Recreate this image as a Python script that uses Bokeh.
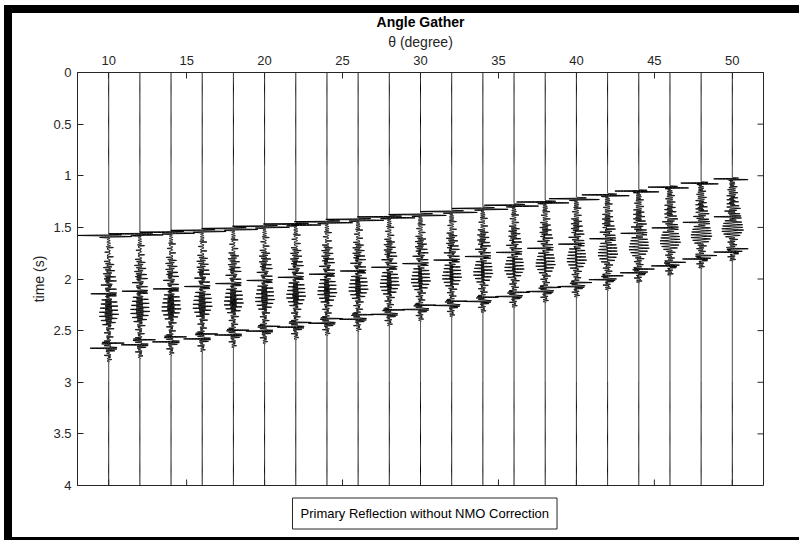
import numpy as np
from bokeh.plotting import figure
from bokeh.models import Range1d, FixedTicker, ColumnDataSource, Title
from bokeh.embed import file_html
from bokeh.resources import INLINE

try:
    from bokeh.models import GlobalInlineStyleSheet, InlineStyleSheet
except Exception:
    GlobalInlineStyleSheet = None
    InlineStyleSheet = None

# ---------------- data ----------------
angles = [10, 12, 14, 16, 18, 20, 22, 24, 26, 28, 30, 32, 34, 36, 38, 40, 42, 44, 46, 48, 50]
primary_time = [1.578, 1.562, 1.546, 1.529, 1.510, 1.489, 1.467, 1.445, 1.422, 1.398, 1.375,
                1.346, 1.316, 1.285, 1.254, 1.222, 1.185, 1.148, 1.110, 1.071, 1.030]
primary_scale = [1.0, 1.0, 1.0, 1.0, 1.0, 1.0, 1.0, 1.0, 0.98, 0.96, 0.94,
                 0.92, 0.9, 0.86, 0.82, 0.78, 0.72, 0.66, 0.6, 0.55, 0.5]
last_time = [2.795, 2.76, 2.73, 2.70, 2.66, 2.62, 2.58, 2.54, 2.50, 2.45, 2.40,
             2.36, 2.32, 2.27, 2.22, 2.17, 2.10, 2.03, 1.96, 1.89, 1.82]
# reflection events of the 10-degree trace (time in s, deflection in degrees)
ref_event_time = [1.572, 1.584,
                  1.600, 1.612, 1.624, 1.636, 1.648, 1.660, 1.672, 1.690, 1.705, 1.720,
                  1.735, 1.750, 1.765, 1.780, 1.795, 1.810, 1.825, 1.840, 1.855, 1.870,
                  1.885, 1.900, 1.915, 1.930, 1.945, 1.960, 1.975,
                  1.995, 2.015, 2.035, 2.055, 2.075, 2.095, 2.115, 2.140, 2.160, 2.180,
                  2.200, 2.220, 2.240, 2.260, 2.280, 2.300, 2.320, 2.340, 2.360, 2.380,
                  2.400, 2.420, 2.440, 2.460, 2.480, 2.500, 2.520, 2.540, 2.560, 2.580,
                  2.600, 2.620, 2.645, 2.670, 2.695, 2.720, 2.740, 2.760, 2.780, 2.795]
ref_event_amp = [-1.85, 1.25,
                 0.08, -0.08, 0.08, -0.10, 0.10, -0.08, 0.10, 0.30, -0.10, 0.10,
                 -0.25, 0.10, -0.10, 0.30, -0.10, 0.10, -0.30, 0.12, 0.35, -0.12,
                 -0.35, 0.12, 0.40, -0.12, -0.35, 0.12, 0.45,
                 -0.30, 0.50, -0.15, -0.50, 0.15, 0.50, -0.15, -1.15, 0.50, -0.15,
                 -0.45, 0.55, -0.50, 0.60, -0.55, 0.60, -0.60, 0.65, -0.60, 0.55,
                 -0.50, 0.45, -0.40, 0.15, 0.35, -0.12, -0.30, 0.12, 0.30, -0.12,
                 -0.30, 1.00, -0.30, -1.20, 0.40, -0.12, -0.30, 0.12, 0.20, -0.10]
n_primary_events = 2
x_ticks = [10, 15, 20, 25, 30, 35, 40, 45, 50]
y_ticks = [0, 0.5, 1, 1.5, 2, 2.5, 3, 3.5, 4]
y_tick_labels = ["0", "0.5", "1", "1.5", "2", "2.5", "3", "3.5", "4"]
x_min, x_max = 8, 52
t_min, t_max = 0, 4
title_text = "Angle Gather"
x_label = "θ (degree)"
y_label = "time (s)"
legend_text = "Primary Reflection without NMO Correction"

FONT = "Liberation Sans"
DARK = "#262626"

# ---------------- wiggle traces ----------------
t = np.concatenate([np.arange(t_min, 0.9, 0.01), np.arange(0.9, 3.0, 0.0005),
                    np.arange(3.0, t_max + 0.005, 0.01)])
freq = 55.0


def ricker(tt):
    a = (np.pi * freq * tt) ** 2
    return (1 - 2 * a) * np.exp(-a)


t0_ref = ref_event_time[0]
span_ref = ref_event_time[-1] - t0_ref
xs, ys = [], []
for ang, t0, t1, ps in zip(angles, primary_time, last_time, primary_scale):
    s = (t1 - t0) / span_ref
    w = np.zeros_like(t)
    for i, (et, ea) in enumerate(zip(ref_event_time, ref_event_amp)):
        amp = ea * ps if i < n_primary_events else ea
        w += amp * ricker(t - (t0 + (et - t0_ref) * s))
    xs.append(list(ang + w))
    ys.append(list(t))

src = ColumnDataSource(dict(xs=xs, ys=ys))

p = figure(width=799, height=540, x_range=Range1d(x_min, x_max), y_range=Range1d(t_max, t_min),
           x_axis_location="above", output_backend="svg", toolbar_location=None,
           min_border_left=77, min_border_right=36, min_border_top=72, min_border_bottom=55,
           title=title_text)
p.title.align = "center"
p.title.text_font = FONT
p.title.text_font_size = "14px"
p.title.text_font_style = "bold"
p.title.text_color = "black"
p.title.standoff = 2
p.title.offset = 0

r = p.multi_line("xs", "ys", source=src, line_color="black", line_width=1)

# inward ticks on the bottom and right edges of the box
p.ray(x=x_ticks, y=[t_max] * len(x_ticks), length=6, length_units="screen",
      angle=np.pi / 2, line_color=DARK, line_width=1)
p.ray(x=[x_max] * len(y_ticks), y=y_ticks, length=6, length_units="screen",
      angle=np.pi, line_color=DARK, line_width=1)

p.xgrid.visible = False
p.ygrid.visible = False
p.outline_line_color = DARK
p.background_fill_color = "white"
p.border_fill_color = "white"
p.border_fill_alpha = 0.0


def style_axis(ax):
    ax.axis_line_color = DARK
    ax.major_tick_line_color = DARK
    ax.major_tick_in = 6
    ax.major_tick_out = 0
    ax.minor_tick_line_color = None
    ax.major_label_text_font = FONT
    ax.major_label_text_font_size = "13px"
    ax.major_label_text_color = DARK
    ax.axis_label_text_font = FONT
    ax.axis_label_text_font_size = "14px"
    ax.axis_label_text_font_style = "normal"
    ax.axis_label_text_color = DARK


xa = p.xaxis[0]
xa.ticker = FixedTicker(ticks=x_ticks)
xa.axis_label = x_label
style_axis(xa)
xa.major_label_standoff = 8
xa.axis_label_standoff = 3

ya = p.yaxis[0]
ya.ticker = FixedTicker(ticks=y_ticks)
ya.major_label_overrides = {k: v for k, v in zip(y_ticks, y_tick_labels)}
ya.axis_label = y_label
style_axis(ya)
ya.major_label_standoff = 6
ya.axis_label_standoff = 3

# legend-like boxed text under the plot
leg = Title(text=legend_text, align="left", text_font=FONT, text_font_size="13px",
            text_font_style="normal", text_color="black", standoff=21, offset=215,
            border_line_color=DARK, border_line_width=1, background_fill_color="white",
            padding=8)
p.add_layout(leg, "below")

# black window frame (left, top, bottom) drawn as the page element's background
p.styles = {
    "background-color": "white",
    "background-image": "linear-gradient(black, black), linear-gradient(black, black), "
                        "linear-gradient(black, black)",
    "background-position": "4px 5px, 4px 5px, 4px 537px",
    "background-size": "8px 535px, 795px 8px, 795px 3px",
    "background-repeat": "no-repeat",
    "overflow": "hidden",
}
if GlobalInlineStyleSheet is not None:
    p.stylesheets = [
        GlobalInlineStyleSheet(css="html, body { overflow: hidden; background: white; } "
                                   "::-webkit-scrollbar { width: 0px; height: 0px; display: none; }"),
        InlineStyleSheet(css=":host { overflow: hidden; } "
                             "::-webkit-scrollbar { width: 0px; height: 0px; display: none; }"),
    ]

open("out.html", "w").write(file_html(p, INLINE))
